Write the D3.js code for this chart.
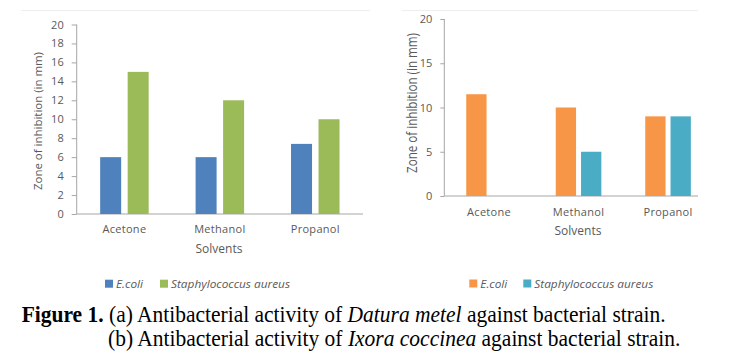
<!DOCTYPE html>
<html><head><meta charset="utf-8">
<script src="https://cdn.jsdelivr.net/npm/d3@7"></script>
<style>body{margin:0;background:#fff}svg{display:block}</style>
</head><body>
<svg id="c" width="739" height="360"></svg>
<script>
const categories = ["Acetone", "Methanol", "Propanol"];
const seriesNames = ["E.coli", "Staphylococcus aureus"];
const daturaEcoli = [6, 6, 7.4];
const daturaStaph = [15, 12, 10];
const ixoraEcoli = [11.5, 10, 9];
const ixoraStaph = [0, 5, 9];
const leftTicks = [0, 2, 4, 6, 8, 10, 12, 14, 16, 18, 20];
const rightTicks = [0, 5, 10, 15, 20];
const axisTitleY = "Zone of inhibition (in mm)";
const axisTitleX = "Solvents";

const svg = d3.select("#c");
const txt = "#595959", axisCol = "#a6a6a6";
const font = "'Open Sans', sans-serif";

function panel(o) {
  const g = svg.append("g");
  // faint top border
  g.append("line").attr("x1", o.frameX1).attr("x2", o.frameX2).attr("y1", 10.5).attr("y2", 10.5)
    .attr("stroke", "#eeeeee");
  const y = d3.scaleLinear().domain([0, 20]).range([o.y0, o.y20]);
  const x = d3.scaleBand().domain(categories).range([o.xStart, o.xEnd]);
  const yAxis = d3.axisLeft(y).tickValues(o.ticks).tickSize(o.tickLen).tickPadding(o.tickPad);
  const ya = g.append("g").attr("transform", `translate(${o.xStart},0)`).call(yAxis);
  ya.select(".domain").remove();
  ya.selectAll(".tick line").attr("stroke", axisCol);
  ya.selectAll(".tick text").attr("fill", txt).attr("font-family", font).attr("font-size", 11);
  g.append("line").attr("x1", o.xStart).attr("x2", o.xStart).attr("y1", o.y20).attr("y2", o.y0).attr("stroke", axisCol);
  g.append("line").attr("x1", o.xStart).attr("x2", o.axisEnd).attr("y1", o.y0).attr("y2", o.y0).attr("stroke", axisCol);
  const s = [o.a, o.b];
  categories.forEach((c, i) => {
    const cx = x(c) + x.bandwidth() / 2;
    s.forEach((vals, j) => {
      const v = vals[i];
      if (v <= 0) return;
      const bx = j === 0 ? cx - o.gap / 2 - o.bw : cx + o.gap / 2;
      g.append("rect").attr("x", bx).attr("width", o.bw).attr("y", y(v)).attr("height", y(0) - y(v))
        .attr("fill", o.colors[j]);
    });
    g.append("text").attr("x", cx).attr("y", o.catY).attr("text-anchor", "middle").attr("dominant-baseline", "central")
      .attr("fill", txt).attr("font-family", font).attr("font-size", 11).attr("letter-spacing", 0.3).text(c);
  });
  g.append("text").attr("x", o.solvX).attr("y", o.solvY).attr("text-anchor", "middle").attr("dominant-baseline", "central")
    .attr("fill", txt).attr("font-family", font).attr("font-size", 12).text(axisTitleX);
  g.append("text").attr("transform", `translate(${o.titleX},${o.titleY}) rotate(-90)`).attr("text-anchor", "middle")
    .attr("dominant-baseline", "central").attr("fill", txt).attr("font-family", font).attr("font-size", o.titleSize)
    .attr("textLength", o.titleLen).attr("lengthAdjust", "spacingAndGlyphs").text(axisTitleY);
  // legend
  const L = g.append("g");
  seriesNames.forEach((n, j) => {
    L.append("rect").attr("x", o.legX[j]).attr("y", o.legY - 4).attr("width", 8).attr("height", 8).attr("fill", o.colors[j]);
    L.append("text").attr("x", o.legX[j] + 11).attr("y", o.legY).attr("dominant-baseline", "central")
      .attr("fill", txt).attr("font-family", font).attr("font-size", 10).attr("font-style", "italic")
      .attr("textLength", o.legLen[j]).attr("lengthAdjust", "spacingAndGlyphs").text(n);
  });
}

panel({frameX1: 21, frameX2: 370, y0: 214, y20: 24.5, xStart: 76.7, xEnd: 363, axisEnd: 363,
  ticks: leftTicks, tickLen: 5, tickPad: 8, a: daturaEcoli, b: daturaStaph, bw: 21, gap: 6.5,
  colors: ["#4f81bd", "#9bbb59"], catY: 228.7, solvX: 219, solvY: 248.7,
  titleX: 37.7, titleY: 121, titleSize: 11.5, titleLen: 138,
  legX: [105, 160], legY: 283.7, legLen: [27, 119]});

panel({frameX1: 401.7, frameX2: 698, y0: 196, y20: 19, xStart: 444.3, xEnd: 712.8, axisEnd: 698,
  ticks: rightTicks, tickLen: 4, tickPad: 8, a: ixoraEcoli, b: ixoraStaph, bw: 20.3, gap: 5,
  colors: ["#f79646", "#4bacc6"], catY: 211, solvX: 578, solvY: 230,
  titleX: 411.7, titleY: 103, titleSize: 14, titleLen: 140,
  legX: [469.3, 523.3], legY: 283.5, legLen: [27, 119]});

// caption
const serif = "'Liberation Serif', 'Times New Roman', serif";
function capLine(x, yb, parts, targetW) {
  const t = svg.append("text").attr("x", 0).attr("y", 0).attr("font-family", serif).attr("font-size", 23).attr("fill", "#000");
  parts.forEach(p => {
    t.append("tspan").attr("font-weight", p.b ? "bold" : null).attr("font-style", p.i ? "italic" : null).text(p.t);
  });
  const w = t.node().getComputedTextLength();
  t.attr("transform", `translate(${x},${yb}) scale(${targetW / w},1)`);
}
capLine(21.7, 322, [{t: "Figure 1.", b: true}, {t: " (a) Antibacterial activity of "}, {t: "Datura metel", i: true},
  {t: " against bacterial strain."}], 644);
capLine(108, 345.5, [{t: "(b) Antibacterial activity of "}, {t: "Ixora coccinea", i: true},
  {t: " against bacterial strain."}], 572.7);
</script>
</body></html>
